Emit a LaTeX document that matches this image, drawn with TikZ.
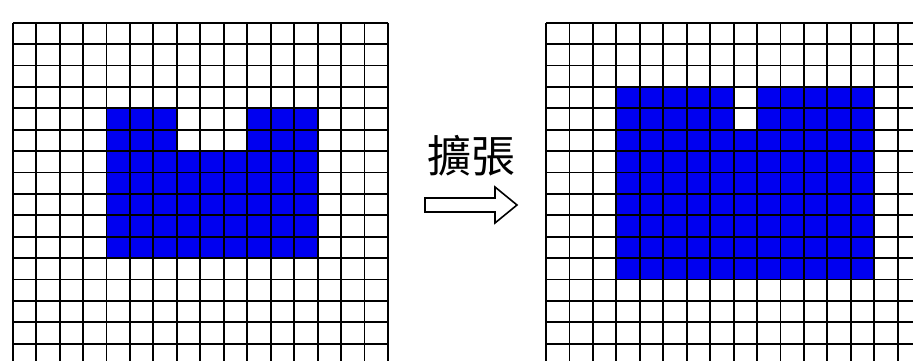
\documentclass[tikz,border=0pt]{standalone}
\usepackage{fontspec}
\newfontfamily\cjk{Noto Sans CJK TC}
\definecolor{cellblue}{RGB}{0,0,240}
\begin{document}
\begin{tikzpicture}[x=1pt,y=-1pt,
  gridline/.style={line width=1.9pt,black},
  cellfill/.style={fill=cellblue},
  hollowarrow/.style={line width=1.6pt,black,fill=white,line join=miter}]
\useasboundingbox (0,0) rectangle (913,361);
\clip (0,0) rectangle (913,361);
\def\dx{23.45}
\def\dy{21.4}
\def\ly{22.7}
% ---------- left grid ----------
\def\lx{12.7}
\fill[cellfill] ({\lx+4*\dx},{\ly+4*\dy}) -- ({\lx+7*\dx},{\ly+4*\dy}) -- ({\lx+7*\dx},{\ly+6*\dy})
  -- ({\lx+10*\dx},{\ly+6*\dy}) -- ({\lx+10*\dx},{\ly+4*\dy}) -- ({\lx+13*\dx},{\ly+4*\dy})
  -- ({\lx+13*\dx},{\ly+11*\dy}) -- ({\lx+4*\dx},{\ly+11*\dy}) -- cycle;
\foreach \i in {0,...,16} \draw[gridline] ({\lx+\i*\dx},\ly) -- ({\lx+\i*\dx},370);
\foreach \j in {0,...,16} \draw[gridline] (\lx,{\ly+\j*\dy}) -- ({\lx+16*\dx},{\ly+\j*\dy});
% ---------- right grid ----------
\def\rx{546}
\fill[cellfill] ({\rx+3*\dx},{\ly+3*\dy}) -- ({\rx+8*\dx},{\ly+3*\dy}) -- ({\rx+8*\dx},{\ly+5*\dy})
  -- ({\rx+9*\dx},{\ly+5*\dy}) -- ({\rx+9*\dx},{\ly+3*\dy}) -- ({\rx+14*\dx},{\ly+3*\dy})
  -- ({\rx+14*\dx},{\ly+12*\dy}) -- ({\rx+3*\dx},{\ly+12*\dy}) -- cycle;
\foreach \i in {0,...,16} \draw[gridline] ({\rx+\i*\dx},\ly) -- ({\rx+\i*\dx},370);
\foreach \j in {0,...,16} \draw[gridline] (\rx,{\ly+\j*\dy}) -- (930,{\ly+\j*\dy});
% ---------- label and arrow ----------
\node[font=\cjk\fontsize{44}{44}\selectfont, inner sep=0pt] (label) at (471,156) {擴張};
\draw[hollowarrow] (425,198) -- (495,198) -- (495,187) -- (517,205) -- (495,223) -- (495,212) -- (425,212) -- cycle;
\end{tikzpicture}
\end{document}
